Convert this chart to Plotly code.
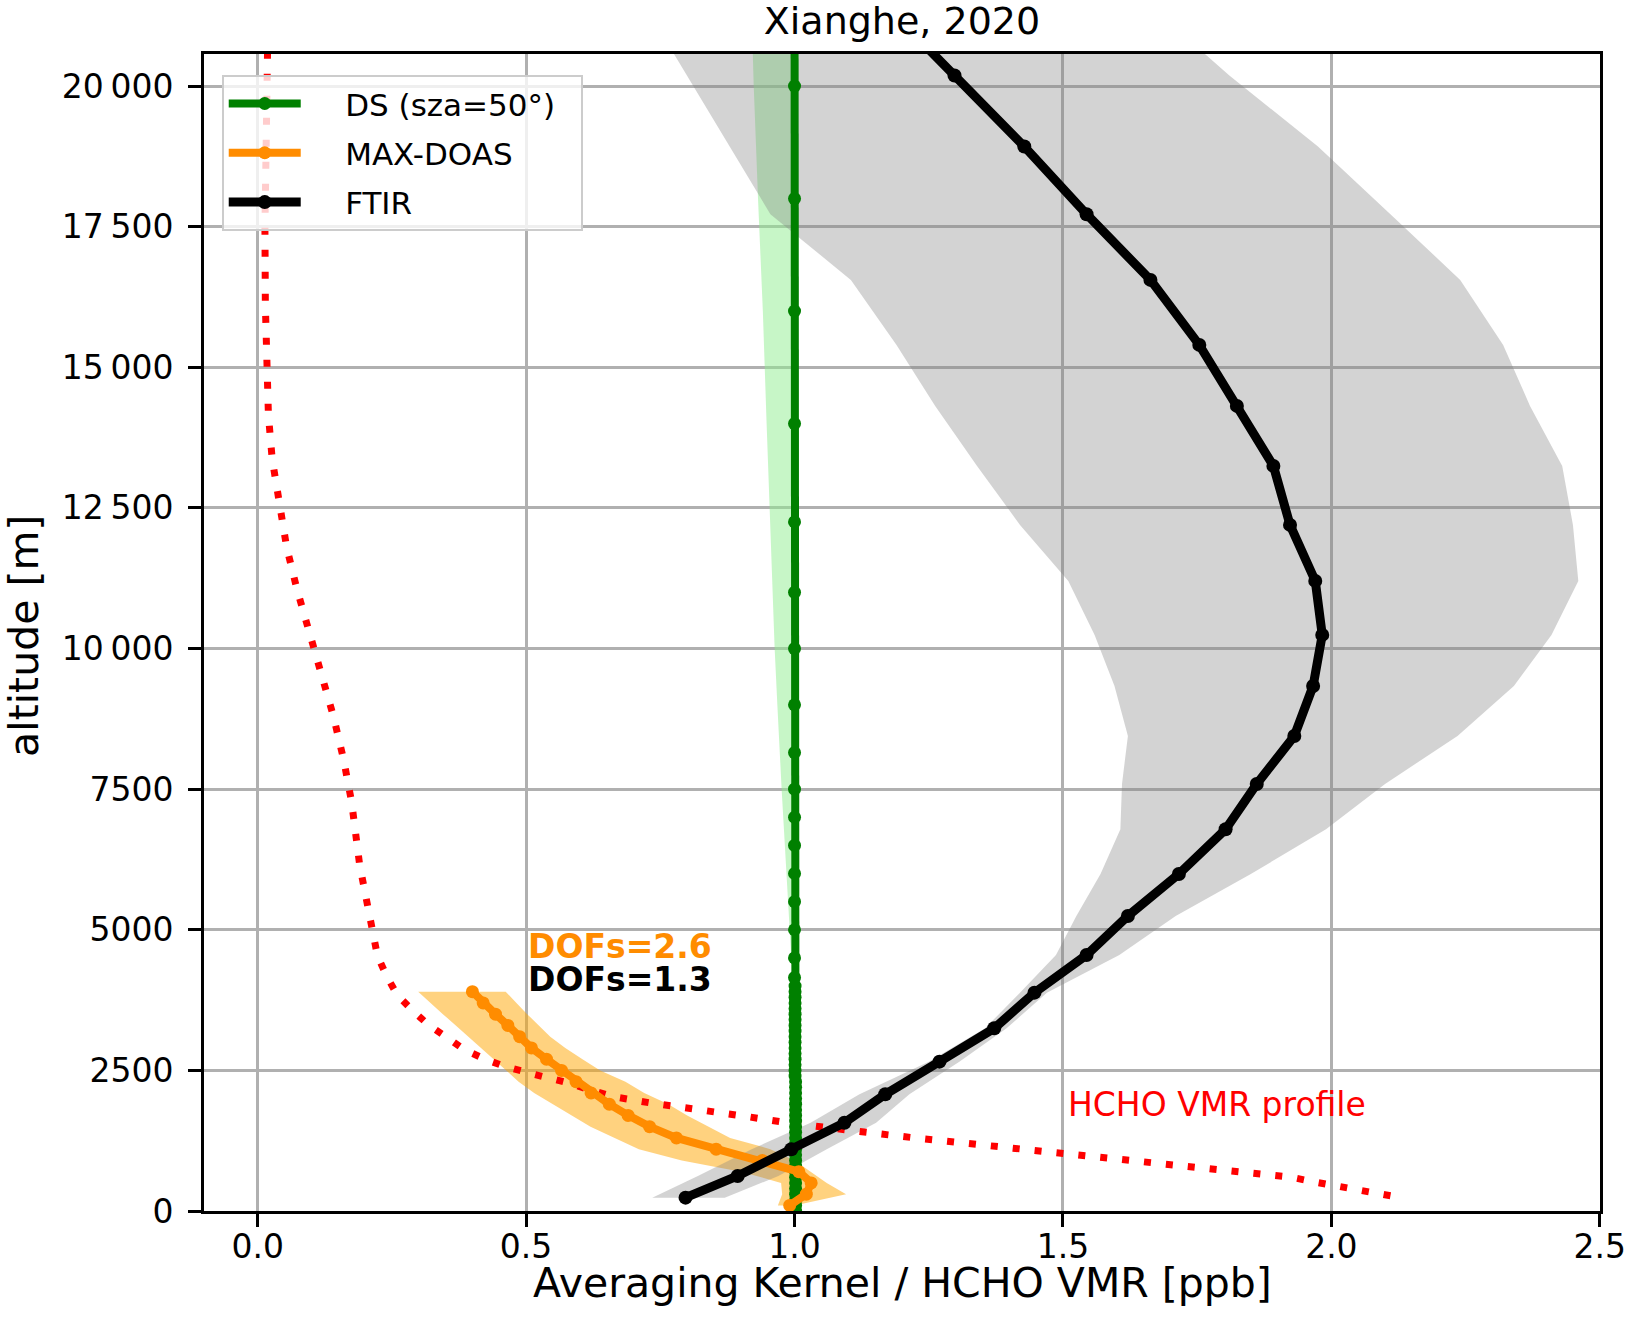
import plotly.graph_objects as go

# ---------------- data ----------------
# FTIR averaging kernel (column AK) and its spread
ftir_alt = [21450, 20187, 18925, 17722, 16554, 15398, 14314, 13247, 12198, 11202, 10242, 9335,
            8446, 7592, 6787, 5992, 5245, 4552, 3882, 3248, 2655, 2075, 1570, 1097, 622, 237]
ftir_ak = [1.168, 1.298, 1.428, 1.544, 1.663, 1.754, 1.824, 1.892, 1.923, 1.970, 1.983, 1.966,
           1.931, 1.861, 1.803, 1.716, 1.621, 1.544, 1.447, 1.372, 1.270, 1.169, 1.093, 0.994, 0.894, 0.797]
ftir_lo = [0.72, 0.80, 0.88, 0.955, 1.105, 1.19, 1.262, 1.34, 1.42, 1.51, 1.559, 1.596,
           1.621, 1.61, 1.607, 1.57, 1.525, 1.487, 1.42, 1.355, 1.25, 1.121, 1.03, 0.92, 0.82, 0.735]
ftir_hi = [1.66, 1.81, 1.975, 2.11, 2.24, 2.32, 2.37, 2.43, 2.45, 2.46, 2.41, 2.34,
           2.235, 2.10, 1.99, 1.85, 1.71, 1.605, 1.47, 1.395, 1.307, 1.214, 1.152, 1.06, 0.97, 0.87]

# MAX-DOAS
doas_alt = [3900, 3700, 3500, 3300, 3100, 2900, 2700, 2500, 2300, 2100,
            1900, 1700, 1500, 1300, 1100, 900, 700, 500, 300, 100]
doas_ak = [0.400, 0.420, 0.443, 0.466, 0.488, 0.510, 0.538, 0.566, 0.593, 0.621,
           0.655, 0.690, 0.730, 0.780, 0.854, 0.940, 1.008, 1.031, 1.022, 0.991]
doas_lo = [0.299, 0.321, 0.345, 0.369, 0.393, 0.416, 0.439, 0.463, 0.486, 0.515,
           0.550, 0.585, 0.620, 0.665, 0.710, 0.790, 0.900, 0.975, 0.977, 0.969]
doas_hi = [0.462, 0.482, 0.502, 0.523, 0.545, 0.573, 0.605, 0.638, 0.685, 0.720,
           0.765, 0.800, 0.840, 0.880, 0.955, 1.000, 1.030, 1.060, 1.096, 1.000]

# Direct sun (sza=50°)
ds_alt = [22000, 20000, 18000, 16000, 14000, 12250, 11000, 10000, 9000, 8150, 7500, 7000,
          6500, 6000, 5500, 5000, 4500, 4150, 4000, 3900, 3800, 3700, 3600, 3500, 3400,
          3300, 3200, 3100, 3000, 2900, 2800, 2700, 2600, 2500, 2400, 2300, 2200, 2100,
          2000, 1900, 1800, 1700, 1600, 1500, 1400, 1300, 1200, 1100, 1000, 900, 800,
          700, 600, 500, 400, 300, 200, 100, 0]
ds_ak = [1.000, 1.000, 1.000, 1.000, 1.000, 1.000, 1.000, 1.000, 1.000, 1.000, 1.000, 1.000,
         1.000, 1.000, 1.000, 1.000, 1.000, 1.000, 1.001, 1.001, 1.001, 1.001, 1.001, 1.001, 1.001,
         1.001, 1.001, 1.001, 1.001, 1.001, 1.001, 1.001, 1.001, 1.001, 1.001, 1.002, 1.002, 1.002,
         1.002, 1.002, 1.002, 1.002, 1.002, 1.002, 1.002, 1.002, 1.002, 1.002, 1.002, 1.002, 1.002,
         1.002, 1.002, 1.002, 1.002, 1.002, 1.002, 1.002, 1.002]
ds_lo = [0.918, 0.924, 0.932, 0.941, 0.948, 0.954, 0.959, 0.963, 0.968, 0.972, 0.976, 0.979,
         0.982, 0.985, 0.988, 0.990, 0.994, 0.997, 0.999, 0.999, 0.999, 0.999, 0.999, 0.999, 0.999,
         0.999, 0.999, 0.999, 0.999, 0.999, 0.999, 0.999, 0.999, 0.999, 0.999, 1.000, 1.000, 1.000,
         1.000, 1.000, 1.000, 1.000, 1.000, 1.000, 1.000, 1.000, 1.000, 1.000, 1.000, 1.000, 1.000,
         1.000, 1.000, 1.000, 1.000, 1.000, 1.000, 1.000, 1.000]

# HCHO VMR a-priori profile [ppb]
vmr_alt = [21000, 19000, 17500, 16100, 15000, 14150, 13370, 12600, 11800, 11060, 10300, 9560,
           8800, 8030, 7270, 6150, 5320, 4540, 4180, 3840, 3560, 3310, 3090, 2875, 2700, 2566,
           2460, 2370, 2270, 2150, 2030, 1915, 1808, 1690, 1570, 1463, 1382, 1293, 1214, 1115,
           1030, 925, 848, 770, 688, 599, 521, 450, 373, 302, 244]
vmr = [0.019, 0.015, 0.0135, 0.0143, 0.016, 0.020, 0.027, 0.039, 0.054, 0.073, 0.096, 0.120,
       0.141, 0.160, 0.175, 0.190, 0.206, 0.223, 0.240, 0.260, 0.289, 0.318, 0.352, 0.384, 0.423, 0.462,
       0.503, 0.542, 0.581, 0.620, 0.664, 0.736, 0.823, 0.904, 0.985, 1.068, 1.149, 1.230, 1.310, 1.394,
       1.478, 1.599, 1.682, 1.762, 1.844, 1.926, 1.966, 2.007, 2.047, 2.088, 2.125]

x_ticks = [0.0, 0.5, 1.0, 1.5, 2.0, 2.5]
x_ticklabels = ["0.0", "0.5", "1.0", "1.5", "2.0", "2.5"]
y_ticks = [0, 2500, 5000, 7500, 10000, 12500, 15000, 17500, 20000]
y_ticklabels = ["0", "2500", "5000", "7500", "10\u202f000", "12\u202f500", "15\u202f000", "17\u202f500", "20\u202f000"]

dof_doas = "DOFs=2.6"
dof_ftir = "DOFs=1.3"

FONT = "DejaVu Sans"
PAD = "\u00a0\u00a0\u00a0\u00a0"
TAIL = "\u00a0\u00a0"
fig = go.Figure()

# ---- uncertainty bands ----
fig.add_trace(go.Scatter(x=ds_lo + ds_ak[::-1], y=ds_alt + ds_alt[::-1], mode="lines",
                         fill="toself", fillcolor="rgba(144,238,144,0.5)",
                         line=dict(width=0), showlegend=False, hoverinfo="skip"))
fig.add_trace(go.Scatter(x=doas_lo + doas_hi[::-1], y=doas_alt + doas_alt[::-1], mode="lines",
                         fill="toself", fillcolor="rgba(255,165,0,0.5)",
                         line=dict(width=0), showlegend=False, hoverinfo="skip"))
fig.add_trace(go.Scatter(x=ftir_lo + ftir_hi[::-1], y=ftir_alt + ftir_alt[::-1], mode="lines",
                         fill="toself", fillcolor="rgba(128,128,128,0.35)",
                         line=dict(width=0), showlegend=False, hoverinfo="skip"))

# ---- HCHO VMR profile ----
fig.add_trace(go.Scatter(x=vmr, y=vmr_alt, mode="lines",
                         line=dict(color="#ff0000", width=7, dash="7px,15px"),
                         showlegend=False, hoverinfo="skip"))

# ---- averaging kernels ----
fig.add_trace(go.Scatter(x=ds_ak, y=ds_alt, mode="lines+markers", name=PAD + "DS (sza=50°)" + TAIL,
                         line=dict(color="#008000", width=8), legendgroup="g1",
                         marker=dict(color="#008000", size=13), legendrank=1))
fig.add_trace(go.Scatter(x=doas_ak, y=doas_alt, mode="lines+markers", name=PAD + "MAX-DOAS",
                         line=dict(color="#ff8c00", width=8), legendgroup="g2",
                         marker=dict(color="#ff8c00", size=13), legendrank=2))
fig.add_trace(go.Scatter(x=ftir_ak, y=ftir_alt, mode="lines+markers", name=PAD + "FTIR",
                         line=dict(color="#000000", width=9), legendgroup="g3",
                         marker=dict(color="#000000", size=14), legendrank=3))

# ---- annotations ----
annotations = [
    dict(x=0.5, y=4698, xref="x", yref="y", text="<b>" + dof_doas + "</b>", showarrow=False,
         xanchor="left", yanchor="middle", font=dict(family=FONT, size=33, color="#ff8c00")),
    dict(x=0.5, y=4107, xref="x", yref="y", text="<b>" + dof_ftir + "</b>", showarrow=False,
         xanchor="left", yanchor="middle", font=dict(family=FONT, size=33, color="#000000")),
    dict(x=1.505, y=1895, xref="x", yref="y", text="HCHO VMR profile", showarrow=False,
         xanchor="left", yanchor="middle", font=dict(family=FONT, size=33, color="#ff0000")),
    dict(x=0.5, y=-0.0625, xref="paper", yref="paper", text="Averaging Kernel / HCHO VMR [ppb]",
         showarrow=False, xanchor="center", yanchor="middle",
         font=dict(family=FONT, size=41, color="#000000")),
    dict(x=-0.129, y=0.497, xref="paper", yref="paper", text="altitude [m]", textangle=-90,
         showarrow=False, xanchor="center", yanchor="middle",
         font=dict(family=FONT, size=41, color="#000000")),
]

axis_common = dict(showline=True, linecolor="#000000", linewidth=3, mirror=True,
                   showgrid=True, gridcolor="#b0b0b0", gridwidth=2.5, automargin=False,
                   ticks="outside", ticklen=13, tickwidth=3, tickcolor="#000000",
                   ticklabeloverflow="allow",
                   tickfont=dict(family=FONT, size=33, color="#000000"), zeroline=False)

fig.update_layout(
    width=1626, height=1335,
    margin=dict(l=204, r=26, t=54, b=124),
    paper_bgcolor="white", plot_bgcolor="white",
    font=dict(family=FONT, color="#000000"),
    title=dict(text="Xianghe, 2020", x=0.5, xref="paper", y=1 - 21 / 1335, yref="container",
               xanchor="center", yanchor="middle", automargin=False,
               font=dict(family=FONT, size=38, color="#000000")),
    xaxis=dict(range=[-0.1, 2.5004], tickvals=x_ticks, ticktext=x_ticklabels, ticklabelstandoff=-9,
               **axis_common),
    yaxis=dict(range=[0, 20570], tickvals=y_ticks, ticktext=y_ticklabels, ticklabelstandoff=8,
               **axis_common),
    legend=dict(x=0.0127, y=0.982, xanchor="left", yanchor="top",
                bgcolor="rgba(255,255,255,0.8)", bordercolor="#cccccc", borderwidth=2,
                font=dict(family=FONT, size=31, color="#000000"), itemwidth=72,
                traceorder="grouped", tracegroupgap=6),
    annotations=annotations,
    showlegend=True,
)

fig.write_html("out.html", config={"displayModeBar": False},
               post_script="document.body.style.margin='0';")
